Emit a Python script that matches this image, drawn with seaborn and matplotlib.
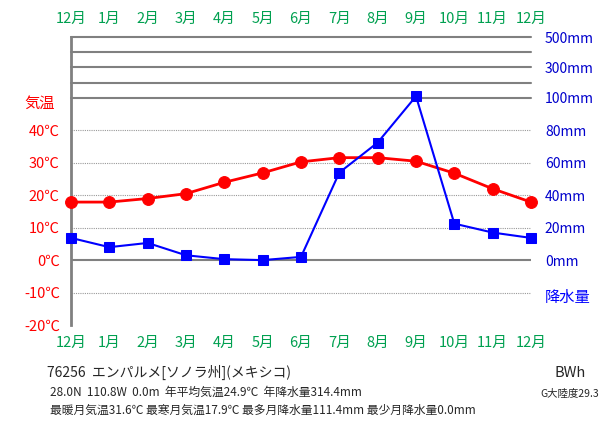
import matplotlib
matplotlib.use("Agg")
import matplotlib.pyplot as plt
import seaborn as sns
import pandas as pd
import numpy as np

sns.set_style("white")
plt.rcParams['font.family'] = ['Noto Sans CJK JP', 'DejaVu Sans']

months = ["12月","1月","2月","3月","4月","5月","6月","7月","8月","9月","10月","11月","12月"]
temp = [17.9, 17.9, 19.0, 20.5, 24.0, 26.9, 30.3, 31.6, 31.6, 30.5, 26.8, 22.0, 17.9]
precip = [13.7, 8.0, 10.6, 3.0, 0.6, 0.0, 2.0, 54.0, 72.5, 111.4, 22.5, 17.0, 13.7]

STEP = 4.7  # degrees per 100mm above 100mm
def p2t(p):
    return p / 2 if p <= 100 else 50 + (p - 100) / 100 * STEP

df = pd.DataFrame({"x": np.arange(len(months)), "temp": temp,
                   "pt": [p2t(p) for p in precip]})

fig = plt.figure(figsize=(6.11, 4.25), dpi=100)
ax = fig.add_axes([71/611, 100/425, 460/611, 288/425])
ymax = 50 + 4 * STEP

for t in [-10, 10, 20, 30, 40]:
    ax.axhline(t, color="#999999", lw=0.8, ls=(0, (1, 1)), zorder=0)
ax.axhline(0, color="#808080", lw=1.5, zorder=0)
for k in range(5):
    ax.axhline(50 + k * STEP, color="#808080", lw=1.5, zorder=0, clip_on=False)

sns.lineplot(data=df, x="x", y="temp", ax=ax, color="#ff0000", lw=2,
             marker="o", markersize=8.5, markeredgecolor="#ff0000", clip_on=False, zorder=3)
sns.lineplot(data=df, x="x", y="pt", ax=ax, color="#0000ff", lw=1.5,
             marker="s", markersize=7.5, markeredgecolor="#0000ff", clip_on=False, zorder=3)

ax.set_xlim(0, len(months) - 1)
ax.set_ylim(-20, ymax)
ax.set_xlabel("")
ax.set_ylabel("")
for s in ["top", "right", "bottom"]:
    ax.spines[s].set_visible(False)
ax.spines["left"].set_color("#808080")
ax.spines["left"].set_linewidth(2)

green = "#00a050"
ax.set_xticks(df["x"])
ax.set_xticklabels(months)
ax.tick_params(axis="x", length=0, labeltop=True, labelbottom=True,
               labelcolor=green, labelsize=10.5, pad=8)
ax.set_yticks([-20, -10, 0, 10, 20, 30, 40])
ax.set_yticklabels([f"{t}℃" for t in [-20, -10, 0, 10, 20, 30, 40]])
ax.tick_params(axis="y", length=0, labelcolor="#ff0000", labelsize=10.5, pad=8)
ax.text(-0.035, 48.5, "気温", transform=ax.get_yaxis_transform(), ha="right",
        va="center", color="#ff0000", fontsize=11)

ax2 = ax.twinx()
ax2.set_ylim(-20, ymax)
rt = [0, 10, 20, 30, 40, 50, 50 + 2 * STEP, 50 + 4 * STEP]
ax2.set_yticks(rt)
ax2.set_yticklabels(["0mm", "20mm", "40mm", "60mm", "80mm", "100mm", "300mm", "500mm"])
ax2.tick_params(axis="y", length=0, labelcolor="#0000cc", labelsize=10, pad=10)
for s in ax2.spines.values():
    s.set_visible(False)
ax2.text(1.03, -11.5, "降水量", transform=ax2.get_yaxis_transform(), ha="left",
         va="center", color="#0000ff", fontsize=11)

fig.text(47/611, 1 - 372/425, "76256  エンパルメ[ソノラ州](メキシコ)", fontsize=10, va="center")
fig.text(50/611, 1 - 392/425, "28.0N  110.8W  0.0m  年平均気温24.9℃  年降水量314.4mm", fontsize=8.5, va="center")
fig.text(50/611, 1 - 410/425, "最暖月気温31.6℃ 最寒月気温17.9℃ 最多月降水量111.4mm 最少月降水量0.0mm", fontsize=8.5, va="center")
fig.text(570/611, 1 - 373/425, "BWh", fontsize=10.5, ha="center", va="center")
fig.text(570/611, 1 - 394/425, "G大陸度29.3", fontsize=7.5, ha="center", va="center")

fig.savefig("out.png", dpi=100)
